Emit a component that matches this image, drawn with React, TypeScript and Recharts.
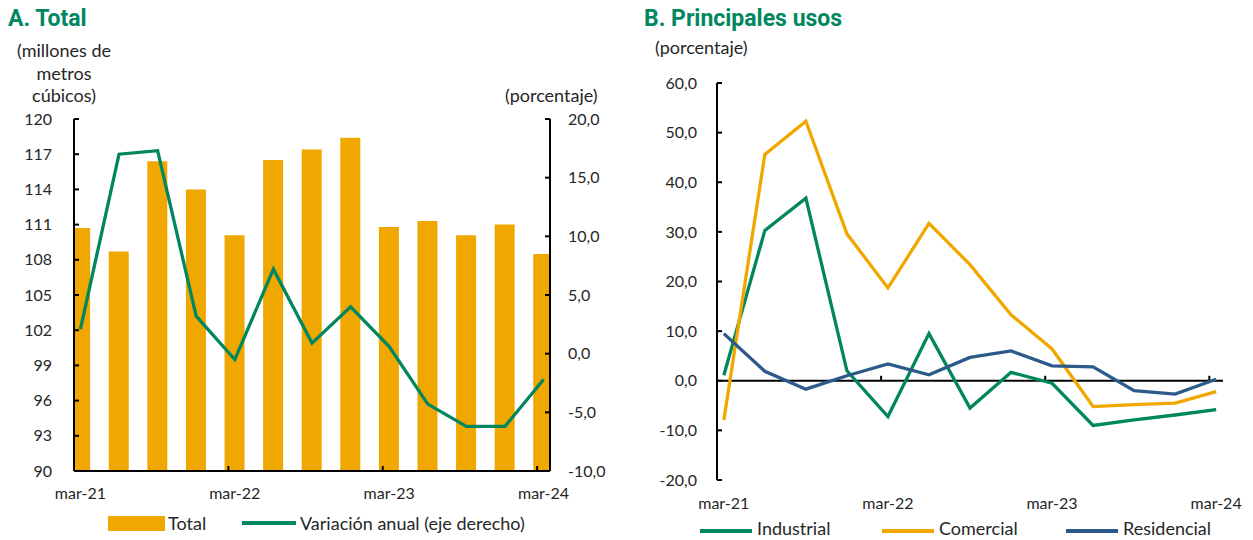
import React from "react"
import { ComposedChart, LineChart, Bar, Line, XAxis, YAxis, ReferenceLine } from "recharts"

// quarterly observations, mar-21 .. mar-24
const quarters = ["mar-21", "jun-21", "sep-21", "dic-21", "mar-22", "jun-22", "sep-22", "dic-22", "mar-23", "jun-23", "sep-23", "dic-23", "mar-24"]
const totalVolume = [110.7, 108.7, 116.4, 114.0, 110.1, 116.5, 117.4, 118.4, 110.8, 111.3, 110.1, 111.0, 108.5]
const annualChange = [2.1, 17.0, 17.3, 3.2, -0.5, 7.2, 0.9, 4.0, 0.6, -4.3, -6.2, -6.2, -2.2]

const industrial = [1.1, 30.3, 36.8, 2.0, -7.2, 9.5, -5.5, 1.7, -0.5, -9.0, -7.9, -6.9, -5.8]
const comercial = [-7.9, 45.6, 52.3, 29.6, 18.7, 31.7, 23.4, 13.3, 6.4, -5.2, -4.8, -4.5, -2.2]
const residencial = [9.5, 1.9, -1.7, 1.0, 3.4, 1.2, 4.7, 6.0, 3.0, 2.8, -2.0, -2.7, 0.3]

const yearTicks = [0, 12, 24, 36]
const yearLabels = ["mar-21", "mar-22", "mar-23", "mar-24"]
const volumeTicks = [90, 93, 96, 99, 102, 105, 108, 111, 114, 117, 120]
const changeTicks = [-10, -5, 0, 5, 10, 15, 20]
const usesTicks = [-20, -10, 0, 10, 20, 30, 40, 50, 60]

const GREEN = "#00875f"
const ORANGE = "#f0a800"
const BLUE = "#2c5a8a"
const TEXT = "#262626"
const FONT = "Lato, 'Open Sans', sans-serif"

// months since march 2021, points sit mid-month
const dataA = quarters.map((q, i) => ({ q, month: i * 3 + 0.5, total: totalVolume[i], variacion: annualChange[i] }))
const dataB = quarters.map((q, i) => ({
  q,
  month: i * 3 + 0.5,
  industrial: industrial[i],
  comercial: comercial[i],
  residencial: residencial[i],
}))

const fmt = (v: number) => v.toFixed(1).replace(".", ",")

const YearTick = ({ x, y, payload, shift }: any) => (
  <text x={x + shift} y={y} dy="0.71em" textAnchor="middle" fill={TEXT} fontSize={16} fontFamily={FONT}>
    {yearLabels[yearTicks.indexOf(payload.value)]}
  </text>
)

const label = (left: number, top: number, text: string, extra: React.CSSProperties = {}) => (
  <div style={{ position: "absolute", left, top, fontSize: 18, lineHeight: "18px", color: TEXT, whiteSpace: "nowrap", ...extra }}>
    {text}
  </div>
)

const axisStyle = { stroke: "#000", strokeWidth: 2 }

export default function App() {
  return (
    <div style={{ position: "absolute", left: 0, top: 0, width: 1253, height: 540, background: "#fff", fontFamily: FONT, overflow: "hidden" }}>
      <div style={{ position: "absolute", left: 8, top: 7, fontFamily: "Roboto, sans-serif", fontWeight: 700, fontSize: 23, lineHeight: "23px", color: GREEN }}>
        A. Total
      </div>
      <div style={{ position: "absolute", left: 644, top: 7, fontFamily: "Roboto, sans-serif", fontWeight: 700, fontSize: 23, lineHeight: "23px", color: GREEN }}>
        B. Principales usos
      </div>

      {label(0, 41, "(millones de", { width: 128, textAlign: "center" })}
      {label(0, 64, "metros", { width: 128, textAlign: "center" })}
      {label(0, 86, "cúbicos)", { width: 128, textAlign: "center" })}
      {label(505, 86, "(porcentaje)")}
      {label(655, 38, "(porcentaje)")}

      <div style={{ position: "absolute", left: 0, top: 0 }}>
        <ComposedChart width={620} height={540} data={dataA} margin={{ top: 119, right: 0, bottom: 39, left: 0 }}>
          <XAxis
            dataKey="month"
            type="number"
            domain={[0, 37]}
            ticks={yearTicks}
            interval={0}
            allowDataOverflow
            height={30}
            tickSize={-5}
            tickMargin={22}
            axisLine={axisStyle}
            tickLine={axisStyle}
            tick={(p: any) => <YearTick {...p} shift={6.4} />}
          />
          <YAxis
            yAxisId="left"
            domain={[90, 120]}
            ticks={volumeTicks}
            interval={0}
            width={74}
            tickSize={-5}
            tickMargin={27}
            axisLine={axisStyle}
            tickLine={axisStyle}
            tick={{ fill: TEXT, fontSize: 16 }}
          />
          <YAxis
            yAxisId="right"
            orientation="right"
            domain={[-10, 20]}
            ticks={changeTicks}
            interval={0}
            width={70}
            tickSize={-5}
            tickMargin={23}
            axisLine={axisStyle}
            tickLine={axisStyle}
            tickFormatter={fmt}
            tick={{ fill: TEXT, fontSize: 16, textAnchor: "start" }}
          />
          <Bar yAxisId="left" dataKey="total" fill={ORANGE} barSize={20} isAnimationActive={false} />
          <Line yAxisId="right" dataKey="variacion" stroke={GREEN} strokeWidth={3.3} dot={false} isAnimationActive={false} />
        </ComposedChart>
      </div>

      <div style={{ position: "absolute", left: 620, top: 0 }}>
        <LineChart width={633} height={540} data={dataB} margin={{ top: 83, right: 30, bottom: 30, left: 0 }}>
          <XAxis
            dataKey="month"
            type="number"
            domain={[0, 37]}
            ticks={yearTicks}
            interval={0}
            allowDataOverflow
            height={30}
            axisLine={false}
            tickLine={false}
            tickSize={0}
            tickMargin={18}
            tick={(p: any) => <YearTick {...p} shift={6.8} />}
          />
          <YAxis
            domain={[-20, 60]}
            ticks={usesTicks}
            interval={0}
            width={97}
            tickSize={-5}
            tickMargin={25}
            axisLine={axisStyle}
            tickLine={axisStyle}
            tickFormatter={fmt}
            tick={{ fill: TEXT, fontSize: 16 }}
          />
          <ReferenceLine y={0} stroke="#000" strokeWidth={2} />
          {yearTicks.slice(1).map((m) => (
            <ReferenceLine key={m} segment={[{ x: m, y: 0 }, { x: m, y: 1 }]} stroke="#000" strokeWidth={2} />
          ))}
          <Line dataKey="industrial" stroke={GREEN} strokeWidth={3.3} dot={false} isAnimationActive={false} />
          <Line dataKey="comercial" stroke={ORANGE} strokeWidth={3.3} dot={false} isAnimationActive={false} />
          <Line dataKey="residencial" stroke={BLUE} strokeWidth={3.3} dot={false} isAnimationActive={false} />
        </LineChart>
      </div>

      {/* legends */}
      <div style={{ position: "absolute", left: 108, top: 516, width: 57, height: 15, background: ORANGE }} />
      {label(168, 514, "Total")}
      <div style={{ position: "absolute", left: 242, top: 521, width: 54, height: 4, background: GREEN }} />
      {label(300, 514, "Variación anual (eje derecho)")}

      <div style={{ position: "absolute", left: 700, top: 529, width: 52, height: 4, background: GREEN }} />
      {label(757, 519, "Industrial")}
      <div style={{ position: "absolute", left: 882, top: 529, width: 52, height: 4, background: ORANGE }} />
      {label(939, 519, "Comercial")}
      <div style={{ position: "absolute", left: 1066, top: 529, width: 52, height: 4, background: BLUE }} />
      {label(1123, 519, "Residencial")}
    </div>
  )
}
